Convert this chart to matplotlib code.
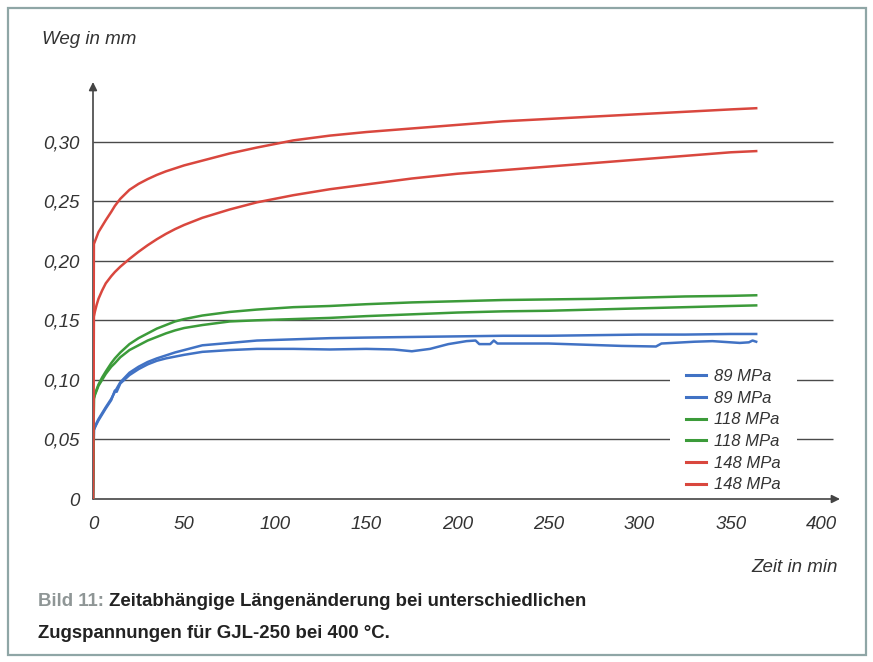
import matplotlib
matplotlib.use("Agg")
import matplotlib.pyplot as plt
from matplotlib import font_manager
from matplotlib.patches import Rectangle

# Zeit in min (gemeinsame Stützstellen)
t = [0, 0.5, 1, 2, 3, 5, 7, 10, 12, 15, 20, 25, 30, 35, 40, 45, 50, 60, 75, 90,
     110, 130, 150, 175, 200, 225, 250, 275, 300, 325, 350, 364]

# Weg in mm
red_hi = [0, .214, .216, .220, .224, .229, .234, .241, .246, .252, .2595, .2645, .2685, .272,
          .275, .2775, .280, .284, .290, .295, .301, .305, .308, .311, .314, .317, .319,
          .321, .323, .325, .327, .328]
red_lo = [0, .153, .157, .163, .168, .175, .181, .187, .1905, .195, .2015, .2075, .213, .218,
          .2225, .2265, .230, .236, .243, .249, .255, .260, .264, .269, .273, .276, .279,
          .282, .285, .288, .291, .292]
green_hi = [0, .085, .088, .092, .096, .102, .107, .114, .118, .123, .130, .135, .139, .143,
            .146, .149, .151, .154, .157, .159, .161, .162, .1635, .165, .166, .167, .1675,
            .168, .169, .170, .1705, .171]
green_lo = [0, .084, .087, .091, .095, .100, .105, .111, .114, .119, .125, .129, .133, .136,
            .139, .1415, .1435, .146, .149, .150, .151, .152, .1535, .155, .1565, .1575,
            .158, .159, .160, .161, .162, .1625]
blue_hi = [0, .058, .060, .064, .067, .072, .077, .084, .090, .098, .106, .111, .115, .118,
           .1205, .123, .125, .129, .131, .133, .134, .135, .1355, .136, .1365, .137, .137,
           .1375, .138, .138, .1385, .1385]

# zweite 89-MPa-Kurve ist unruhiger, eigene Stützstellen
t_blue_lo = [0, 0.5, 1, 2, 3, 5, 7, 10, 12, 13, 15, 20, 25, 30, 35, 40, 45, 50, 60, 75,
             90, 110, 130, 150, 165, 175, 185, 195, 205, 210, 212, 218, 220, 222, 235, 250,
             270, 290, 309, 312, 330, 340, 355, 360, 362, 364]
blue_lo = [0, .058, .060, .063, .066, .071, .076, .083, .091, .090, .097, .104, .109, .113,
           .116, .118, .1195, .121, .1235, .125, .126, .126, .1255, .126, .1255, .124, .126,
           .130, .1325, .133, .130, .130, .133, .1305, .1305, .1305, .1295, .1285, .128,
           .1305, .132, .1325, .131, .1315, .133, .132]

labels = ["89 MPa", "89 MPa", "118 MPa", "118 MPa", "148 MPa", "148 MPa"]
yticks = [0, 0.05, 0.10, 0.15, 0.20, 0.25, 0.30]
ytick_labels = ["0", "0,05", "0,10", "0,15", "0,20", "0,25", "0,30"]
xticks = [0, 50, 100, 150, 200, 250, 300, 350, 400]

BLUE = "#4172c4"
GREEN = "#3c9b3a"
RED = "#d9473e"
TXT = "#333333"

names = {f.name for f in font_manager.fontManager.ttflist}
narrow = "Liberation Sans Narrow" in names
plt.rcParams["font.family"] = ["Liberation Sans", "DejaVu Sans"]

fig = plt.figure(figsize=(8.73, 6.62), dpi=100)
W, H = 873, 662
ax = fig.add_axes([93 / W, (H - 499) / H, 747 / W, 417 / H])
ax.set_xlim(0, 410)
ax.set_ylim(0, 0.35)
for s in ax.spines.values():
    s.set_visible(False)

# Gitterlinien
ax.hlines(yticks[1:], 0, 406, color="#4a4a4a", lw=1.0, zorder=1)

# weisser Hintergrund der Legende unterbricht die Gitterlinien
ax.add_patch(Rectangle((670 / W, 1 - 494 / H), 127 / W, 142 / H,
                       transform=fig.transFigure, facecolor="white",
                       edgecolor="none", zorder=1.5))

# Achsen mit Pfeilen
ax.annotate("", xy=(410, 0), xytext=(0, 0),
            arrowprops=dict(arrowstyle="-|>", color="#444444", lw=1.2,
                            mutation_scale=12, shrinkA=0, shrinkB=0), zorder=2)
ax.annotate("", xy=(0, 0.35), xytext=(0, 0),
            arrowprops=dict(arrowstyle="-|>", color="#444444", lw=1.2,
                            mutation_scale=12, shrinkA=0, shrinkB=0), zorder=2)

lw = 1.8
ax.plot(t, blue_hi, color=BLUE, lw=lw, label=labels[0], zorder=3)
ax.plot(t_blue_lo, blue_lo, color=BLUE, lw=lw, label=labels[1], zorder=3)
ax.plot(t, green_hi, color=GREEN, lw=lw, label=labels[2], zorder=3)
ax.plot(t, green_lo, color=GREEN, lw=lw, label=labels[3], zorder=3)
ax.plot(t, red_lo, color=RED, lw=lw, label=labels[4], zorder=3)
ax.plot(t, red_hi, color=RED, lw=lw, label=labels[5], zorder=3)

ax.set_yticks(yticks)
ax.set_yticklabels(ytick_labels)
ax.set_xticks(xticks)
ax.set_xticklabels([str(v) for v in xticks])
ax.tick_params(axis="y", length=0, pad=10, labelsize=13.5, labelcolor=TXT)
ax.tick_params(axis="x", length=0, pad=12, labelsize=13.5, labelcolor=TXT)
for lab in ax.get_xticklabels() + ax.get_yticklabels():
    lab.set_fontstyle("italic")

leg = ax.legend(loc="upper left", bbox_to_anchor=(671 / W, 1 - 354 / H),
                bbox_transform=fig.transFigure, borderaxespad=0, frameon=False,
                handlelength=1.2, handletextpad=0.45, labelspacing=0.4, borderpad=0.9,
                prop=dict(size=12, style="italic"))
leg.set_zorder(4)
for txt in leg.get_texts():
    txt.set_color(TXT)
for h in leg.legend_handles:
    h.set_linewidth(2.2)

fig.text(42 / W, 1 - 40 / H, "Weg in mm", fontsize=13.5, style="italic",
         color=TXT, ha="left", va="center")
fig.text(838 / W, 1 - 567 / H, "Zeit in min", fontsize=13.5, style="italic",
         color=TXT, ha="right", va="center")

# Bildunterschrift
cap_font = "Liberation Sans Narrow" if narrow else "Liberation Sans"
cap_size = 16 if narrow else 13.4
t1 = fig.text(38 / W, 1 - 610 / H, "Bild 11:", fontsize=cap_size, fontweight="bold",
              family=[cap_font, "DejaVu Sans"], color="#8f9696", ha="left", va="bottom")
ax.annotate(" Zeitabhängige Längenänderung bei unterschiedlichen", xy=(1, 0),
            xycoords=t1, fontsize=cap_size, fontweight="bold",
            family=[cap_font, "DejaVu Sans"], color="#222222", ha="left", va="bottom",
            annotation_clip=False)
fig.text(38 / W, 1 - 642 / H, "Zugspannungen für GJL-250 bei 400 °C.", fontsize=cap_size,
         fontweight="bold", family=[cap_font, "DejaVu Sans"], color="#222222",
         ha="left", va="bottom")

# Rahmen um die Abbildung
fig.patches.append(Rectangle((8 / W, 1 - 655 / H), 858 / W, 647 / H,
                             transform=fig.transFigure, fill=False,
                             edgecolor="#8fa6a6", lw=1.6))

fig.savefig("out.png", dpi=100)
